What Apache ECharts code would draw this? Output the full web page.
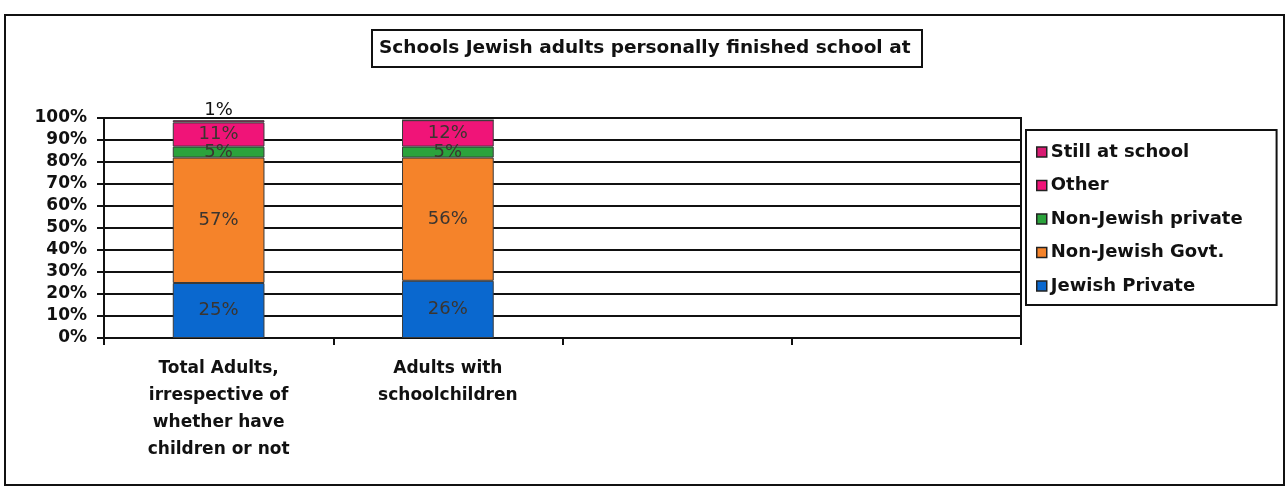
<!DOCTYPE html>
<html>
<head>
<meta charset="utf-8">
<title>Schools Jewish adults personally finished school at</title>
<script src="https://cdn.jsdelivr.net/npm/echarts@6/dist/echarts.min.js"></script>
<style>
  html, body { margin: 0; padding: 0; background: #fff; }
  #chart { width: 1287px; height: 492px; }
</style>
</head>
<body>
<div id="chart"></div>
<script>
// Groups of respondents (two unused slots keep the axis at four bands)
const categories = [
  'Total Adults,\nirrespective of\nwhether have\nchildren or not',
  'Adults with\nschoolchildren',
  '',
  ''
];

// Share of respondents (%) by type of school finished at
const jewishPrivate    = [25, 26, null, null];
const nonJewishGovt    = [57, 56, null, null];
const nonJewishPrivate = [5, 5, null, null];
const other            = [11, 12, null, null];
const stillAtSchool    = [1, 0, null, null];

const yTicks = [0, 10, 20, 30, 40, 50, 60, 70, 80, 90, 100];

const FONT = '"DejaVu Sans", "Liberation Sans", Arial, sans-serif';

const seriesDefs = [
  { name: 'Jewish Private',     data: jewishPrivate,    color: '#0a68cf', pos: 'inside' },
  { name: 'Non-Jewish Govt.',   data: nonJewishGovt,    color: '#f5832a', pos: 'inside' },
  { name: 'Non-Jewish private', data: nonJewishPrivate, color: '#2ba33c', pos: 'inside' },
  { name: 'Other',              data: other,            color: '#f01478', pos: 'inside' },
  { name: 'Still at school',    data: stillAtSchool,    color: '#d81b72', pos: 'top' }
];

const chart = echarts.init(document.getElementById('chart'), null, { renderer: 'canvas' });

chart.setOption({
  animation: false,
  backgroundColor: '#fff',
  textStyle: { fontFamily: FONT },
  title: {
    text: 'Schools Jewish adults personally finished school at',
    left: 372,
    top: 30,
    padding: [9, 12, 9, 7],
    borderColor: '#111',
    borderWidth: 2,
    textStyle: { fontFamily: FONT, fontSize: 18.5, fontWeight: 'bold', color: '#111' }
  },
  legend: {
    orient: 'vertical',
    left: 1026,
    top: 130,
    padding: [12, 34, 9, 10],
    itemGap: 13.5,
    itemWidth: 10,
    itemHeight: 10,
    borderColor: '#111',
    borderWidth: 2,
    icon: 'rect',
    data: ['Still at school', 'Other', 'Non-Jewish private', 'Non-Jewish Govt.', 'Jewish Private'],
    itemStyle: { borderColor: '#222', borderWidth: 1.5 },
    textStyle: { fontFamily: FONT, fontSize: 18, fontWeight: 'bold', color: '#111', lineHeight: 20, padding: [0, 0, 0, -1] }
  },
  grid: {
    left: 104,
    right: 266,
    top: 118,
    bottom: 154,
    show: true,
    borderColor: '#111',
    borderWidth: 2,
    backgroundColor: 'transparent'
  },
  xAxis: {
    type: 'category',
    data: categories,
    axisLine: { lineStyle: { color: '#111', width: 2 } },
    axisTick: { show: true, length: 7, lineStyle: { color: '#111', width: 2 } },
    axisLabel: {
      interval: 0,
      margin: 17,
      fontFamily: FONT,
      fontSize: 17,
      fontWeight: 'bold',
      color: '#111',
      lineHeight: 27,
      align: 'center'
    }
  },
  yAxis: {
    type: 'value',
    min: yTicks[0],
    max: yTicks[yTicks.length - 1],
    interval: yTicks[1] - yTicks[0],
    axisLine: { show: true, lineStyle: { color: '#111', width: 2 } },
    axisTick: { show: true, length: 7, lineStyle: { color: '#111', width: 2 } },
    axisLabel: {
      margin: 17,
      fontFamily: FONT,
      fontSize: 17,
      fontWeight: 'bold',
      color: '#111',
      formatter: '{value}%'
    },
    splitLine: { show: true, lineStyle: { color: '#111', width: 2 } }
  },
  series: seriesDefs.map(s => ({
    name: s.name,
    type: 'bar',
    stack: 'total',
    barWidth: '40%',
    data: s.data,
    itemStyle: { color: s.color, borderColor: '#3a3a3a', borderWidth: 1 },
    label: {
      show: true,
      position: s.pos,
      distance: 1,
      fontFamily: FONT,
      fontSize: 18,
      color: s.pos === 'top' ? '#111' : '#3b3530',
      formatter: p => (p.value ? p.value + '%' : '')
    }
  })),
  graphic: [
    {
      type: 'rect',
      shape: { x: 5, y: 15, width: 1279, height: 470 },
      style: { fill: 'none', stroke: '#111', lineWidth: 2 },
      silent: true,
      z: -1
    }
  ]
});
</script>
</body>
</html>
